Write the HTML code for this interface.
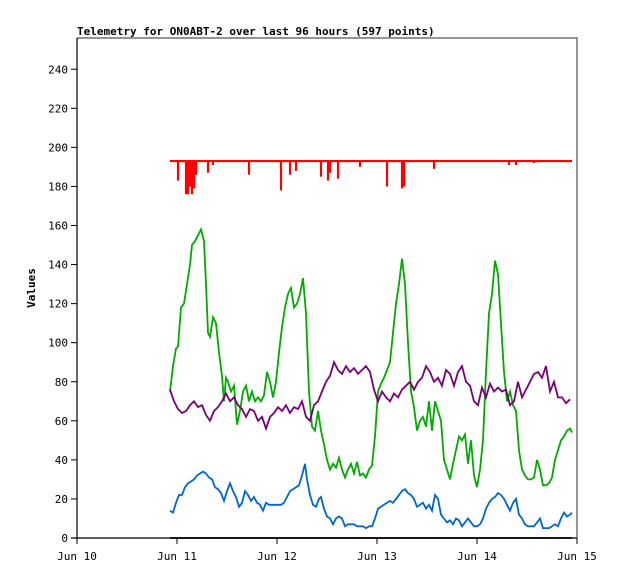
<!DOCTYPE html>
<html><head><meta charset="utf-8"><style>
body{margin:0;background:#fff;}
svg text{font-family:"DejaVu Sans Mono","Liberation Mono",monospace;font-size:11px;}
</style></head><body>
<svg width="618" height="579" xmlns="http://www.w3.org/2000/svg">
<rect width="618" height="579" fill="#fff"/>
<g id="grid"></g>
<text x="77" y="35" font-weight="bold">Telemetry for ON0ABT-2 over last 96 hours (597 points)</text>
<text transform="translate(35,288) rotate(-90)" text-anchor="middle" font-weight="bold">Values</text>
<g id="series"></g>
</svg>
<script>
const yTicks=[0,20,40,60,80,100,120,140,160,180,200,220,240];
const xTickLabels=["Jun 10","Jun 11","Jun 12","Jun 13","Jun 14","Jun 15"];
// x positions read in axis units (Jun 10 = 77, 100 units per day)
const greenX=[170,173,176,178,181,184,187,190,192,195,198,201,204,206,208,210,213,216,219,222,224,226,228,231,234,237,240,243,246,249,252,255,258,261,264,267,270,273,276,279,282,285,288,291,294,297,300,303,306,309,312,315,318,321,324,327,330,333,336,339,342,345,348,351,354,357,360,363,366,369,372,375,378,381,384,387,390,393,396,399,402,405,408,411,414,417,420,423,426,429,432,435,438,441,444,447,450,453,456,459,462,465,468,471,474,477,480,483,486,489,492,495,498,501,504,507,510,513,516,519,522,525,528,531,534,537,540,543,546,549,552,555,558,561,564,567,570,572];
const greenY=[75,88,97,98,118,120,130,140,150,152,155,158,152,130,105,103,113,110,95,83,70,82,80,75,78,58,65,75,78,70,75,70,72,70,73,85,80,72,80,95,108,118,125,128,118,120,125,133,115,75,57,55,65,55,48,40,35,38,36,41,35,31,35,38,33,39,32,33,31,35,37,52,75,79,82,86,90,105,120,130,143,130,100,75,67,55,60,62,57,70,55,70,65,60,40,35,30,38,45,52,50,53,38,50,32,26,35,50,85,115,125,142,135,110,85,70,75,68,65,45,35,32,30,30,31,40,35,27,27,28,31,40,45,50,52,55,56,54];
const purpleX=[170,174,178,182,186,190,194,198,202,206,210,214,218,222,226,230,234,238,242,246,250,254,258,262,266,270,274,278,282,286,290,294,298,302,306,310,314,318,322,326,330,334,338,342,346,350,354,358,362,366,370,374,378,382,386,390,394,398,402,406,410,414,418,422,426,430,434,438,442,446,450,454,458,462,466,470,474,478,482,486,490,494,498,502,506,510,514,518,522,526,530,534,538,542,546,550,554,558,562,566,570];
const purpleY=[76,70,66,64,65,68,70,67,68,63,60,65,67,70,74,70,72,68,66,62,66,65,60,62,56,62,64,67,65,68,64,67,66,70,62,60,68,70,75,80,83,90,86,84,88,85,87,84,86,88,85,76,70,75,72,70,74,72,76,78,80,76,80,82,88,85,80,82,78,86,84,78,85,88,80,78,70,68,77,72,79,75,77,75,76,68,70,80,72,76,80,84,85,82,88,75,80,72,72,69,71];
const blueX=[170,173,176,179,182,185,188,191,194,197,200,203,206,209,212,215,218,221,224,227,230,233,236,239,242,245,248,251,254,257,260,263,266,269,272,275,278,281,284,287,290,293,296,299,302,305,307,310,313,316,319,321,324,327,330,333,336,339,342,345,348,351,354,357,360,363,366,369,372,375,378,381,384,387,390,393,396,399,402,405,408,411,414,417,420,423,426,429,432,435,438,441,444,447,450,453,456,459,462,465,468,471,474,477,480,483,486,489,492,495,498,501,504,507,510,513,516,519,522,525,528,531,534,537,540,543,546,549,552,555,558,561,564,567,570,572];
const blueY=[14,13,18,22,22,26,28,29,30,32,33,34,33,31,30,26,25,23,19,24,28,24,21,16,18,24,22,19,21,18,17,14,18,17,17,17,17,17,18,21,24,25,26,27,32,38,30,22,17,16,20,21,15,11,10,7,10,11,10,6,7,7,7,6,6,6,5,6,6,10,15,16,17,18,19,18,20,22,24,25,23,22,20,16,17,18,15,17,14,22,20,12,10,8,9,7,10,9,6,8,10,8,6,6,7,10,15,18,20,21,23,22,20,17,14,18,20,12,10,7,6,6,6,8,10,5,5,5,6,7,6,10,13,11,12,13];
const redBase=193;
const redSpikeX=[178,186,188,190,192,194,196,208,213,249,281,290,296,321,328,330,338,360,387,402,404,434,509,516,534];
const redSpikeY=[183,176,176,180,176,179,186,187,191,186,178,186,188,185,183,187,184,190,180,179,180,189,191,191,192];
const blackX=[170,572];
const blackY=[0,0];

const NS="http://www.w3.org/2000/svg";
const L=77,R=577,T=38,B=538,YMAX=256;
const xs=d=>L+(d-77);
const ys=v=>B-v/YMAX*(B-T);
function mk(tag,attrs,parent){const e=document.createElementNS(NS,tag);for(const k in attrs)e.setAttribute(k,attrs[k]);parent.appendChild(e);return e;}
const grid=document.getElementById('grid');
const ser=document.getElementById('series');
let fr=mk('path',{d:`M${L},${T}H${R}V${B}`,fill:'none',stroke:'#555','stroke-width':1.2},grid);


let ya=mk('line',{x1:L,y1:T,x2:L,y2:B+1,stroke:'#000','stroke-width':1.2},grid);


let xa=mk('line',{x1:L-6,y1:B,x2:R,y2:B,stroke:'#000','stroke-width':1.2},grid);


yTicks.forEach(v=>{
  const y=ys(v);
  let t=mk('line',{x1:L-6,y1:y,x2:L,y2:y,stroke:'#000'},grid);
  
  
  let tx=mk('text',{x:L-9,y:y+4,'text-anchor':'end'},grid);tx.textContent=v;
  
  
});
xTickLabels.forEach((s,i)=>{
  const x=L+i*100;
  let t=mk('line',{x1:x,y1:B,x2:x,y2:B+6,stroke:'#000'},grid);
  
  
  let tx=mk('text',{x:x,y:B+22,'text-anchor':'middle'},grid);tx.textContent=s;
  
  
});
function line(X,Y,color,name){
  const d=X.map((x,i)=>(i?'L':'M')+xs(x).toFixed(1)+','+ys(Y[i]).toFixed(1)).join('');
  const p=mk('path',{d:d,fill:'none',stroke:color,'stroke-width':1.8,'stroke-linejoin':'miter'},ser);
  
  
}
let rd='M'+xs(170)+','+ys(redBase)+'H'+xs(572);
redSpikeX.forEach((x,i)=>{rd+='M'+xs(x)+','+ys(redBase)+'V'+ys(redSpikeY[i]);});
const rp=mk('path',{d:rd,fill:'none',stroke:'#ff0000','stroke-width':2.2},ser);


line(greenX,greenY,'#00aa00','green-series');
line(purpleX,purpleY,'#770077','purple-series');
line(blueX,blueY,'#0066cc','blue-series');
line(blackX,blackY,'#000000','black-series');
</script>
</body></html>
